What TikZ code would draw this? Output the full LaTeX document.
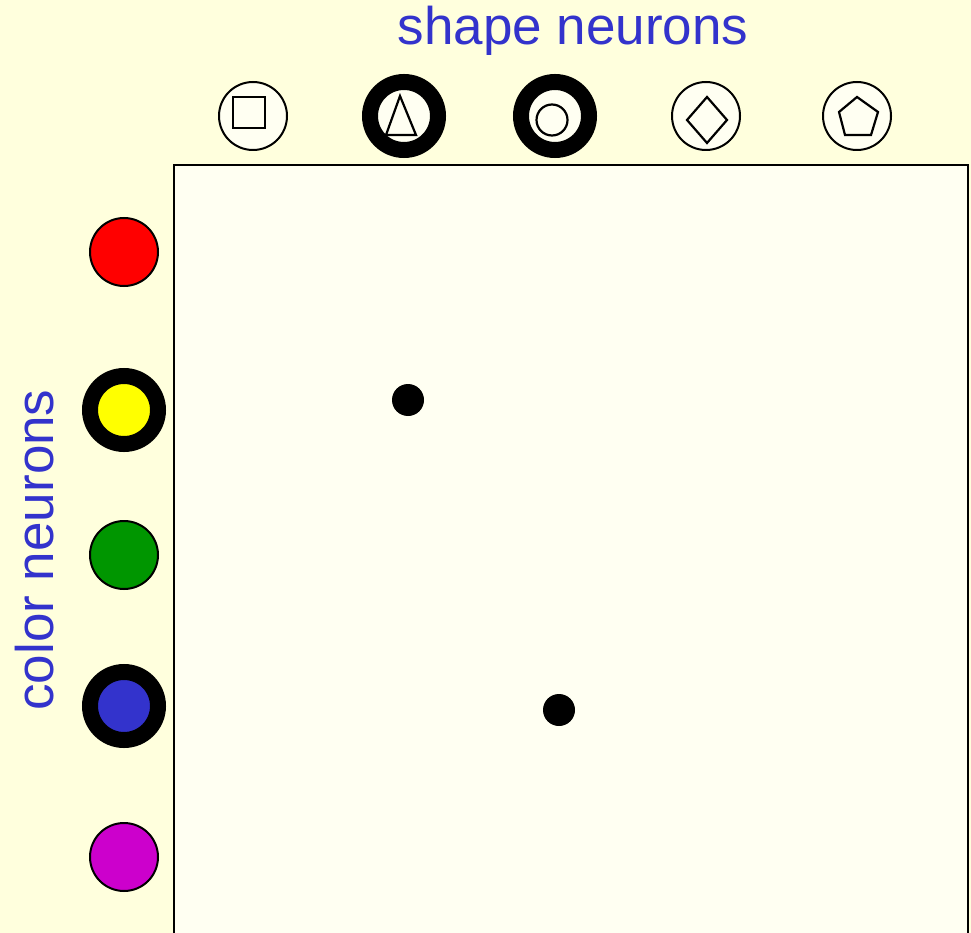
\documentclass[tikz,border=0pt]{standalone}
\usepackage{fontspec}
\setmainfont{Liberation Sans}
\begin{document}
\begin{tikzpicture}[x=1pt,y=-1pt,
  neuron/.style={circle,draw=black,line width=2pt,minimum size=68pt,inner sep=0pt},
  active/.style={circle,draw=black,line width=16pt,minimum size=68pt,inner sep=0pt},
  glyph/.style={draw=black,line width=2.2pt,fill=panel},
  dot/.style={circle,fill=black,minimum size=32pt,inner sep=0pt},
  lbl/.style={text=lblblue,font=\fontsize{53}{60}\selectfont,inner sep=0pt}]
\definecolor{bg}{RGB}{255,255,221}
\definecolor{panel}{RGB}{255,255,242}
\definecolor{lblblue}{RGB}{51,51,204}
\definecolor{cred}{RGB}{255,0,0}
\definecolor{cyellow}{RGB}{255,255,0}
\definecolor{cgreen}{RGB}{0,150,0}
\definecolor{cblue}{RGB}{51,51,204}
\definecolor{cmag}{RGB}{204,0,204}
\useasboundingbox (0,0) rectangle (971,933);
\fill[bg] (0,0) rectangle (971,933);
\draw[line width=2pt,fill=panel] (174,940) -- (174,165) -- (968,165) -- (968,940);
% labels
\node[lbl,anchor=base] (shapelbl) at (573,45) {shape neurons};
\node[lbl,anchor=base,rotate=90] (colorlbl) at (53,550) {color neurons};
% shape neurons
\node[neuron,fill=panel] (s1) at (253,116) {};
\node[active,fill=panel] (s2) at (404,116) {};
\node[active,fill=panel] (s3) at (555,116) {};
\node[neuron,fill=panel] (s4) at (706,116) {};
\node[neuron,fill=panel] (s5) at (857,116) {};
\draw[glyph] (233,97) rectangle (265,128);
\draw[glyph] (400,96) -- (416,135) -- (386,135) -- cycle;
\draw[glyph] (552,120) circle (15.5);
\draw[glyph] (707,97) -- (727,120) -- (707,143) -- (687,120) -- cycle;
\draw[glyph] (857,97) -- (878,112) -- (871,135) -- (845,135) -- (839,112) -- cycle;
% color neurons
\node[neuron,fill=cred] (c1) at (124,252) {};
\node[active,fill=cyellow] (c2) at (124,410) {};
\node[neuron,fill=cgreen] (c3) at (124,555) {};
\node[active,fill=cblue] (c4) at (124,706) {};
\node[neuron,fill=cmag] (c5) at (124,857) {};
% bindings
\node[dot] (d1) at (408,400) {};
\node[dot] (d2) at (559,710) {};
\end{tikzpicture}
\end{document}
